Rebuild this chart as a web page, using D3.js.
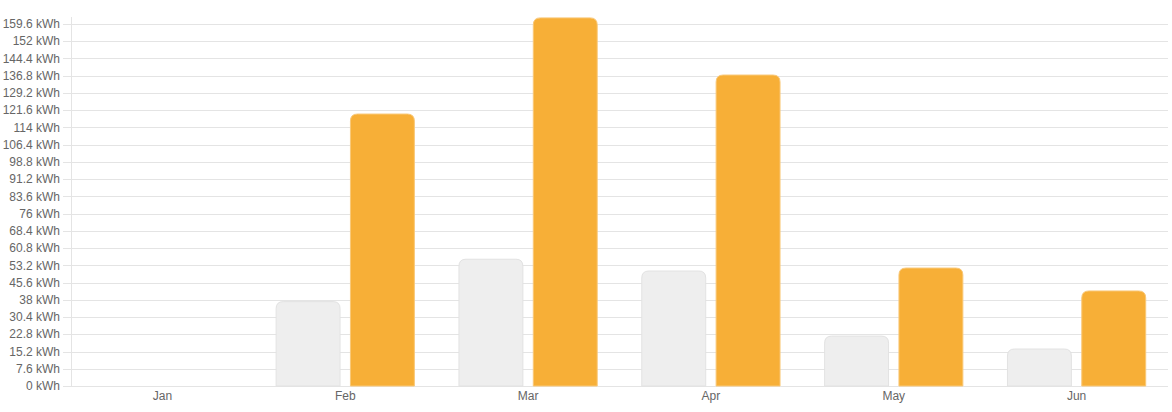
<!DOCTYPE html>
<html><head><meta charset="utf-8">
<script src="https://cdn.jsdelivr.net/npm/d3@7"></script>
<style>body{margin:0;background:#fff;} svg{display:block;}</style>
</head><body>
<svg id="c" width="1172" height="412"></svg>
<script>
const categories = ["Jan","Feb","Mar","Apr","May","Jun"];
const seriesGray = [0, 37.2, 55.9, 50.7, 22.0, 16.3];
const seriesOrange = [0, 119.9, 162.3, 137.1, 52.0, 41.9];
const tickValues = [0,7.6,15.2,22.8,30.4,38,45.6,53.2,60.8,68.4,76,83.6,91.2,98.8,106.4,114,121.6,129.2,136.8,144.4,152,159.6];
const unit = " kWh";

(function(){
const svg = d3.select("#c");
const mLeft = 71, mRight = 1168, mBottom = 386, mTop = 24;
const y = d3.scaleLinear().domain([0, 159.6]).range([mBottom, mTop]);
const x = d3.scaleBand().domain(categories).range([mLeft, mRight]).paddingInner(0).paddingOuter(0);
const inner = d3.scaleBand().domain(["g","o"]).range([0, x.bandwidth()]).paddingInner(0.14).paddingOuter(0.3);

svg.append("g").selectAll("line").data(tickValues).join("line")
  .attr("x1", mLeft-8).attr("x2", mRight).attr("y1", d=>Math.round(y(d))+0.5).attr("y2", d=>Math.round(y(d))+0.5)
  .attr("stroke", "#e4e4e4").attr("stroke-width", 1);
svg.append("line").attr("x1", mLeft+0.5).attr("x2", mLeft+0.5).attr("y1", 17).attr("y2", mBottom)
  .attr("stroke", "#e4e4e4");

svg.append("g").selectAll("text").data(tickValues).join("text")
  .attr("x", mLeft-11).attr("y", d=>y(d)).attr("dy", "0.35em").attr("text-anchor","end")
  .attr("font-family","Liberation Sans, Arial, sans-serif").attr("font-size", 12).attr("fill","#666")
  .text(d=>d3.format("~g")(d)+unit);

svg.append("g").selectAll("text").data(categories).join("text")
  .attr("x", d=>x(d)+x.bandwidth()/2).attr("y", 396).attr("dy","0.35em").attr("text-anchor","middle")
  .attr("font-family","Liberation Sans, Arial, sans-serif").attr("font-size", 12).attr("fill","#666")
  .text(d=>d);

function barPath(x0, w, yTop, yBot, r) {
  const h = yBot - yTop;
  if (h <= 0) return "";
  r = Math.min(r, h, w/2);
  return `M${x0},${yBot}V${yTop+r}Q${x0},${yTop} ${x0+r},${yTop}H${x0+w-r}Q${x0+w},${yTop} ${x0+w},${yTop+r}V${yBot}Z`;
}

const series = [
  {key:"g", values: seriesGray, fill:"#eeeeee", stroke:"#e2e2e2"},
  {key:"o", values: seriesOrange, fill:"#f7af37", stroke:"#f9c878"}
];
series.forEach(s => {
  svg.append("g").selectAll("path").data(categories).join("path")
    .attr("d", (c,i) => barPath(x(c)+inner(s.key), inner.bandwidth(), y(s.values[i]), mBottom, 7))
    .attr("fill", s.fill).attr("stroke", s.stroke).attr("stroke-width", 1);
});
})();
</script>
</body></html>
